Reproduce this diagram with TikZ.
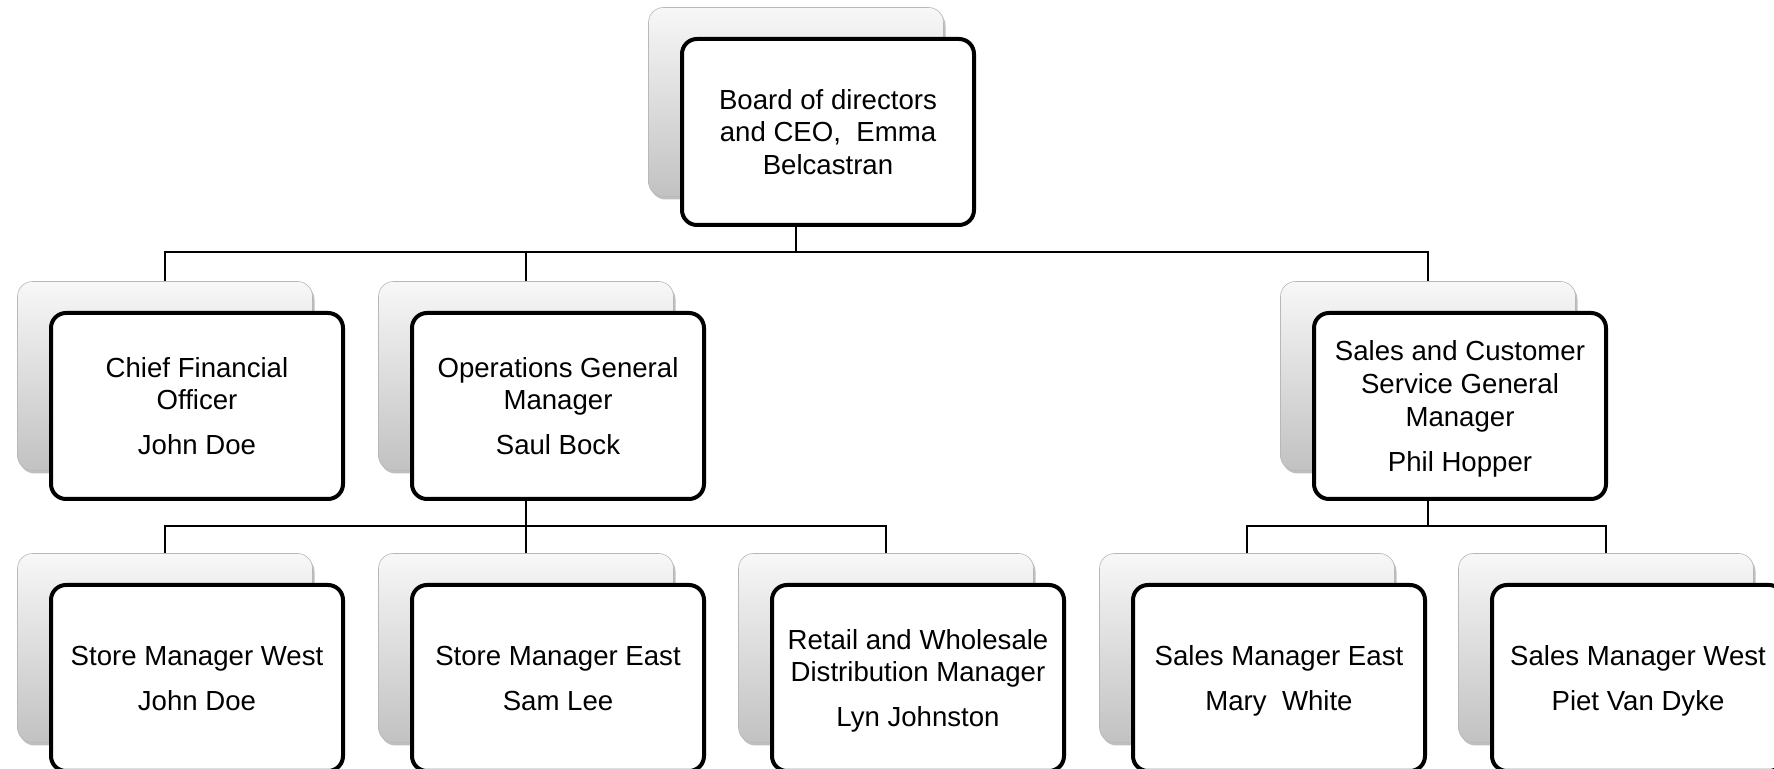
\documentclass[tikz,border=0pt]{standalone}
\usepackage{fontspec}
\setmainfont{Liberation Sans}
\usetikzlibrary{shadows}
\begin{document}
\begin{tikzpicture}[x=0.5pt,y=-0.5pt,
  back/.style={rounded corners=7.5pt, minimum width=147.5pt, minimum height=94.5pt,
    draw=black!28, line width=0.3pt, top color=white!97!black, bottom color=white!76!black,
    inner sep=0pt, drop shadow={shadow xshift=1pt, shadow yshift=-1.5pt, opacity=0.25, fill=black}},
  card/.style={rounded corners=7.5pt, minimum width=146pt, minimum height=93pt,
    draw=black, line width=2pt, fill=white, align=center, inner sep=0pt, text depth=0pt,
    font=\fontsize{13.8}{16.4}\selectfont},
  conn/.style={line width=1pt, draw=black}]
\useasboundingbox (0,0) rectangle (1774,769);
% background cards
\node[back] (topS) at (796,102) {};
\node[back] (cfoS) at (165,376) {};
\node[back] (opsS) at (526,376) {};
\node[back] (scsS) at (1428,376) {};
\node[back] (smwS) at (165,648) {};
\node[back] (smeS) at (526,648) {};
\node[back] (rwdS) at (886,648) {};
\node[back] (saeS) at (1247,648) {};
\node[back] (sawS) at (1606,648) {};
% main cards
\node[card] (top) at (828,132) {Board of directors\\and CEO,~ Emma\\Belcastran};
\node[card] (cfo) at (197,406) {Chief Financial\\Officer\\[6pt]John Doe};
\node[card] (ops) at (558,406) {Operations General\\Manager\\[6pt]Saul Bock};
\node[card] (scs) at (1460,406) {Sales and Customer\\Service General\\Manager\\[6pt]Phil Hopper};
\node[card] (smw) at (197,678) {Store Manager West\\[6pt]John Doe};
\node[card] (sme) at (558,678) {Store Manager East\\[6pt]Sam Lee};
\node[card] (rwd) at (918,678) {Retail and Wholesale\\Distribution Manager\\[6pt]Lyn Johnston};
\node[card] (sae) at (1279,678) {Sales Manager East\\[6pt]Mary~ White};
\node[card] (saw) at (1638,678) {Sales Manager West\\[6pt]Piet Van Dyke};
% junctions
\coordinate (j0) at (796,252);
\coordinate (j1) at (526,526);
\coordinate (j2) at (1428,526);
% connectors
\draw[conn] (topS.center |- top.south) -- (j0);
\draw[conn] (cfoS.north) -- (cfoS.north |- j0) -- (scsS.north |- j0) -- (scsS.north);
\draw[conn] (opsS.north) -- (opsS.north |- j0);
\draw[conn] (opsS.center |- ops.south) -- (j1);
\draw[conn] (smwS.north) -- (smwS.north |- j1) -- (rwdS.north |- j1) -- (rwdS.north);
\draw[conn] (smeS.north) -- (smeS.north |- j1);
\draw[conn] (scsS.center |- scs.south) -- (j2);
\draw[conn] (saeS.north) -- (saeS.north |- j2) -- (sawS.north |- j2) -- (sawS.north);
\end{tikzpicture}
\end{document}
